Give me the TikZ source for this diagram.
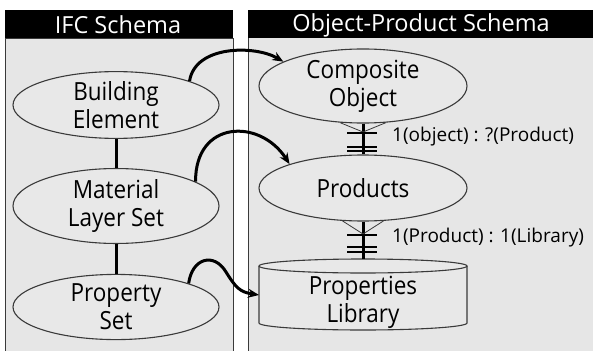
\documentclass[tikz,border=0pt]{standalone}
\usepackage{fontspec}
\setmainfont{Open Sans}
\newfontfamily\nodefont{Open Sans}[FakeStretch=0.9]
\usetikzlibrary{arrows.meta,shapes.geometric}
\definecolor{panelgray}{HTML}{E6E6E6}
\definecolor{ellgray}{HTML}{E8E8E8}
\definecolor{edge}{HTML}{3A3A3A}
\begin{document}
\begin{tikzpicture}[x=1pt,y=-1pt,
  panel/.style={fill=panelgray,draw=edge,line width=0.9pt},
  header/.style={fill=black},
  htext/.style={text=white,font=\fontsize{23.5}{26}\selectfont,inner sep=0pt},
  ell/.style={ellipse,draw=edge,fill=ellgray,line width=1.1pt,minimum width=206pt,minimum height=64pt,inner sep=0pt,align=center,font=\nodefont\fontsize{25}{28}\selectfont},
  ellr/.style={ell,minimum width=208pt,minimum height=66pt},
  txt/.style={inner sep=0pt,align=center,font=\nodefont\fontsize{25}{28}\selectfont},
  link/.style={line width=3pt,-{Stealth[length=11pt,width=9pt]}},
  rel/.style={line width=3pt},
  fan/.style={line width=0.8pt,draw=edge},
  bar/.style={line width=1.1pt},
  lab/.style={inner sep=0pt,anchor=west,font=\fontsize{19}{22}\selectfont}
]
\useasboundingbox (0,0) rectangle (593,350);
\fill[white] (0,0) rectangle (593,350);
% panels
\draw[panel] (5,352) -- (5,38) -- (233,38) -- (233,352);
\fill[panelgray] (248,38) rectangle (596,352);
\draw[edge,line width=0.9pt] (248,352) -- (248,38);
\fill[header] (5,10) rectangle (233,38);
\fill[header] (248,10) rectangle (596,38);
\node[htext] (h1) at (118,25) {IFC Schema};
\node[htext] (h2) at (421,25) {Object-Product Schema};
% left nodes
\node[ell] (be) at (116,105) {Building\\Element};
\node[ell] (ma) at (116,206) {Material\\Layer Set};
\node[ell] (ps) at (116,307) {Property\\Set};
\draw[rel] (be.south) -- (ma.north);
\draw[rel] (ma.south) -- (ps.north);
% right nodes
\node[ellr] (co) at (363,86) {Composite\\Object};
\node[ellr] (pr) at (363,188) {Products};
% cylinder
\fill[ellgray] (259,266) -- (259,323) arc[start angle=180,end angle=360,x radius=104,y radius=-7] -- (467,266) -- cycle;
\draw[edge,line width=1.1pt] (259,266) -- (259,323) arc[start angle=180,end angle=360,x radius=104,y radius=-7] -- (467,266);
\draw[edge,line width=1.1pt,fill=ellgray] (363,266) ellipse[x radius=104,y radius=7];
\node[txt,minimum width=208pt,minimum height=64pt] (lib) at (363,302) {Properties\\Library};
\coordinate (libtop) at (363,259);
\coordinate (libin) at (259,295);
% relations
\coordinate (cf1) at (363,132);
\draw[rel] (co.south) -- (pr.north);
\draw[fan] (co.238) -- (cf1) -- (co.302);
\draw[bar] ([xshift=-16pt,yshift=-1pt]cf1) -- ([xshift=14pt,yshift=-1pt]cf1);
\draw[bar] ([xshift=-16pt,yshift=-15pt]cf1) -- ([xshift=14pt,yshift=-15pt]cf1);
\draw[bar] ([xshift=-16pt,yshift=-19pt]cf1) -- ([xshift=14pt,yshift=-19pt]cf1);
\node[lab] (l1) at (392,137) {1(object) : ?(Product)};
\coordinate (cf2) at (363,234);
\draw[rel] (pr.south) -- (libtop);
\draw[fan] (pr.238) -- (cf2) -- (pr.302);
\draw[bar] ([xshift=-16pt,yshift=-1pt]cf2) -- ([xshift=14pt,yshift=-1pt]cf2);
\draw[bar] ([xshift=-16pt,yshift=-13pt]cf2) -- ([xshift=14pt,yshift=-13pt]cf2);
\draw[bar] ([xshift=-16pt,yshift=-18pt]cf2) -- ([xshift=14pt,yshift=-18pt]cf2);
\node[lab] (l2) at (392,238) {1(Product) : 1(Library)};
% arrows
\draw[link] (be.18) .. controls (195,45) and (255,45) .. (co.163);
\draw[link] (ma.17) .. controls (195,120) and (260,118) .. (pr.162);
\draw[link] (ps.18) .. controls (192,258) and (214,252) .. (226,272) .. controls (236,288) and (240,292) .. (libin);
\end{tikzpicture}
\end{document}
